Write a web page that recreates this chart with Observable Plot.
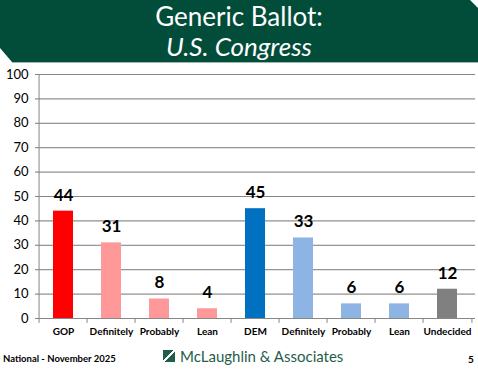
<!DOCTYPE html>
<html><head><meta charset="utf-8">
<script src="https://cdn.jsdelivr.net/npm/d3@7"></script>
<script src="https://cdn.jsdelivr.net/npm/@observablehq/plot@0.6"></script>
<style>
html,body{margin:0;padding:0;background:#fff;}
#wrap{position:relative;width:478px;height:369px;overflow:hidden;font-family:Lato,"Open Sans",sans-serif;}
#banner{position:absolute;left:0;top:0;width:478px;height:62px;background:#024D3A;
 clip-path:polygon(0 0,470px 0,478px 8px,478px 62px,12px 62px,0 48px);}
#bline{position:absolute;left:12px;top:62px;width:466px;height:1px;background:#9fb7ae;}
.t{position:absolute;left:0;width:478px;text-align:center;color:#fff;font-size:26px;line-height:30px;}
#chart{position:absolute;left:0;top:62px;}
#f1{position:absolute;left:3px;top:353px;font-size:9.5px;font-weight:bold;color:#000;}
#f2{position:absolute;left:163px;top:347px;font-size:15px;color:#1F5E4B;display:flex;align-items:center;}
#f2 .logo{width:12px;height:12px;background:linear-gradient(135deg,#1F5E4B 44%,#fff 44%,#fff 56%,#1F5E4B 56%);margin-right:5px;}
#f3{position:absolute;left:468px;top:353px;font-size:10px;font-weight:bold;color:#000;}
</style></head>
<body><div id="wrap">
<div id="banner"></div><div id="bline"></div>
<div class="t" style="top:1px">Generic Ballot:</div>
<div class="t" style="top:31px;font-style:italic">U.S. Congress</div>
<div id="chart"></div>
<div id="f1">National - November 2025</div>
<div id="f2"><span class="logo"></span>McLaughlin &amp; Associates</div>
<div id="f3">5</div>
</div>
<script>
const categories = ["GOP","Definitely","Probably","Lean","DEM","Definitely","Probably","Lean","Undecided"];
const values = [44,31,8,4,45,33,6,6,12];
const colors = ["#FF0000","#FF9999","#FF9999","#FF9999","#0070C0","#8DB4E2","#8DB4E2","#8DB4E2","#808080"];
const yTicks = [0,10,20,30,40,50,60,70,80,90,100];

const data = categories.map((c,i)=>({i, c, v: values[i], col: colors[i]}));
const idx = data.map(d=>d.i);
const step = (478-35-3)/9;

const plot = Plot.plot({
  width: 478, height: 280,
  marginTop: 12, marginBottom: 24, marginLeft: 35, marginRight: 3,
  style: {fontFamily: "Lato, 'Open Sans', sans-serif", background: "transparent"},
  x: {type: "band", domain: idx, paddingInner: 0.58, paddingOuter: 0.29, axis: null},
  y: {domain: [0,100], axis: null},
  marks: [
    Plot.ruleY(yTicks.filter(t=>t>0), {stroke: "#D9D9D9", strokeWidth: 1}),
    Plot.ruleX([0], {x: d=>d, y1: 0, y2: 100, stroke: "#868686", dx: -step/2}),
    Plot.ruleY([0], {stroke: "#868686"}),
    Plot.tickY(yTicks, {y: d=>d, frameAnchor: "left", stroke: "#868686"}),
    Plot.ruleX(idx, {x: d=>d, y1: 0, y2: -2, dx: -step/2, stroke: "#868686"}),
    Plot.ruleX([8], {x: d=>d, y1: 0, y2: -2, dx: step/2, stroke: "#868686"}),
    Plot.barY(data, {x: "i", y: "v", fill: "col"}),
    Plot.text(data, {x: "i", y: "v", text: d=>String(d.v), dy: -16, fontSize: 17, fontWeight: "bold", fill: "#000"}),
    Plot.text(data, {x: "i", y: 0, text: "c", dy: 13, fontSize: 10, fontWeight: "bold", fill: "#000"}),
    Plot.text(yTicks, {y: d=>d, text: d=>String(d), frameAnchor: "left", textAnchor: "end", dx: -7, fontSize: 13, fill: "#000"})
  ]
});
document.getElementById("chart").appendChild(plot);
</script>
</body></html>
